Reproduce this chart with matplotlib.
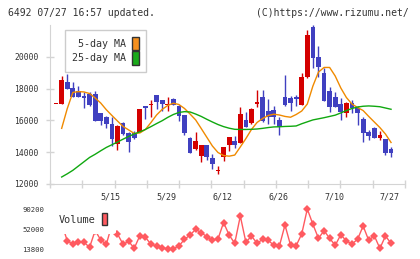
import numpy as np
import matplotlib
matplotlib.use("Agg")
import matplotlib.pyplot as plt
from matplotlib.patches import Patch

# daily candles (61 trading days)
opens = [17000, 17030, 18400, 18020, 17850, 17540, 17660, 17660, 16450, 16230,
         15770, 14520, 15860, 15230, 15230, 15290, 16900, 16980, 17600, 17280,
         16990, 17350, 16900, 16340, 14870, 14200, 13780, 14450, 13620, 12830,
         13720, 14450, 14720, 14600, 16030, 15860, 17030, 17450, 16590, 16650,
         16030, 17450, 17390, 17490, 16970, 18750, 21900, 19970, 18960, 17850,
         17450, 17030, 16480, 17110, 16800, 16070, 15290, 15520, 14910, 14830,
         14200]
highs = [17000, 18810, 18920, 18430, 18160, 17810, 17810, 17870, 16450, 16300,
         16200, 15720, 15920, 15300, 15350, 16700, 16900, 17280, 17600, 17280,
         17450, 17430, 16950, 16340, 14980, 15300, 14450, 14450, 13890, 13150,
         14330, 14980, 15040, 16820, 16510, 16760, 17910, 17910, 17330, 16900,
         16230, 18860, 17540, 17600, 19000, 21690, 22000, 20680, 19280, 18120,
         17800, 17430, 17150, 17300, 16900, 16200, 15400, 15600, 15350, 14830,
         14310]
lows = [17000, 17030, 17950, 17490, 17490, 16800, 16880, 15980, 15710, 15500,
        14400, 14140, 15100, 14030, 14850, 15290, 16070, 16200, 16700, 16600,
        16620, 16980, 15980, 15080, 13930, 14140, 13400, 13500, 12950, 12610,
        13450, 14050, 14240, 14600, 15570, 15770, 16860, 15920, 15770, 15770,
        15080, 16900, 16610, 16900, 16970, 18690, 19320, 18750, 17240, 16550,
        16860, 16050, 16230, 16480, 15730, 14660, 14770, 14920, 14780, 13820,
        13680]
closes = [17000, 18540, 17980, 17490, 17490, 17390, 16970, 15980, 15980, 15800,
          14800, 15650, 15150, 14660, 14900, 16700, 16760, 17030, 17130, 17030,
          17030, 16980, 16300, 15200, 13930, 14700, 14450, 13700, 13280, 12880,
          14330, 14980, 14450, 16400, 15570, 16700, 17170, 15980, 16230, 16230,
          15570, 16970, 17110, 17330, 18750, 21370, 19910, 19340, 17240, 16860,
          16860, 16550, 17110, 16800, 16450, 15230, 15020, 14920, 15080, 13970,
          13920]
ma5 = [np.nan, 15500, 16740, 17760, 17810, 17790, 17690, 17410, 17090, 16670,
       16310, 15960, 15620, 15400, 15180, 15210, 15430, 15870, 16340, 16690,
       16940, 17080, 17000, 16750, 16400, 16030, 15490, 14940, 14390, 13980,
       13790, 13750, 13820, 14330, 14860, 15430, 15870, 16120, 16310, 16390,
       16340, 16250, 16200, 16370, 16590, 17030, 18160, 19040, 19330, 19330,
       18790, 18040, 17440, 17030, 16810, 16620, 16250, 15900, 15550, 15140,
       14610]
ma25 = [np.nan, 12440, 12640, 12860, 13130, 13400, 13670, 13870, 14090, 14300,
        14470, 14640, 14820, 14990, 15150, 15280, 15430, 15610, 15800, 15980,
        16190, 16370, 16500, 16550, 16530, 16400, 16250, 16070, 15900, 15740,
        15610, 15510, 15440, 15430, 15430, 15440, 15460, 15500, 15550, 15590,
        15600, 15620, 15630, 15650, 15790, 15910, 16030, 16100, 16170, 16250,
        16330, 16470, 16620, 16750, 16840, 16890, 16910, 16890, 16860, 16780,
        16700]
volume = [60000, 62000, 29700, 22800, 26600, 26600, 17000, 49000, 31000, 22800,
          60500, 42500, 22800, 28500, 15100, 39200, 36100, 22800, 19500, 16300,
          13800, 14400, 19500, 32300, 40500, 51400, 45000, 37300, 31000, 32900,
          64300, 40500, 24700, 76800, 26600, 38600, 24700, 32300, 30400, 20900,
          19500, 59600, 20900, 20100, 42500, 90200, 61000, 34200, 48800, 34200,
          20900, 41100, 29100, 23400, 32300, 57700, 30400, 39200, 15000, 38600,
          24700]
date_labels = ["5/15", "5/29", "6/12", "6/26", "7/10", "7/27"]
date_index = [10, 20, 30, 40, 50, 60]
price_ticks = [12000, 14000, 16000, 18000, 20000]

UP = "#d40000"
DOWN = "#4040c0"
GRAY = "#d4d4d4"
MONO = "DejaVu Sans Mono"

o = np.array(opens); c = np.array(closes)
h = np.array(highs); l = np.array(lows)
x = np.arange(len(o))
cols = [UP if cc >= oo else DOWN for oo, cc in zip(o, c)]

fig = plt.figure(figsize=(4.2, 2.59), dpi=100)
ax = fig.add_axes([50/420, 75/259, 355/420, 159/259])
vax = fig.add_axes([50/420, 4/259, 355/420, 52/259])
xlim = (-1.09, 62.5)

# candles
ax.vlines(x, l, h, colors=cols, lw=1, zorder=2)
body = np.maximum(np.abs(c - o), 70)
ax.bar(x, body, bottom=np.minimum(o, c), width=0.85, color=cols, lw=0, zorder=3)
ax.plot(x, ma5, color="#f08a00", lw=1, zorder=4)
ax.plot(x, ma25, color="#10a810", lw=1, zorder=4)

ax.set_xlim(*xlim)
ax.set_ylim(12000, 22000)
for s in ["top", "right"]:
    ax.spines[s].set_visible(False)
for s in ["left", "bottom"]:
    ax.spines[s].set_color(GRAY)
ax.set_yticks(price_ticks)
ax.set_yticklabels([str(t) for t in price_ticks], family=MONO, fontsize=5.8, color="#333333")
ax.set_xticks(np.linspace(xlim[0], xlim[1], 12))
ax.set_xticklabels([])
ax.tick_params(direction="inout", length=6, width=1, color=GRAY, pad=5)
for i, lab in zip(date_index, date_labels):
    ax.text(i - 0.2, -0.082, lab, transform=ax.get_xaxis_transform(),
            ha="center", va="center", family=MONO, fontsize=6, color="#333333")

leg = ax.legend([Patch(facecolor="#f5901e", edgecolor="#333333", lw=1),
                 Patch(facecolor="#1aaa1a", edgecolor="#333333", lw=1)],
                ["5-day MA", "25-day MA"], loc="upper left",
                bbox_to_anchor=(65/420, 1 - 30/259), bbox_transform=fig.transFigure,
                markerfirst=False, handlelength=0.7, handleheight=1.65,
                handletextpad=0.6, labelspacing=0.12, borderpad=0.7,
                borderaxespad=0, fancybox=False, framealpha=1,
                edgecolor="#cccccc", prop={"family": MONO, "size": 7.2})
leg.get_frame().set_linewidth(1)
for t in leg.get_texts():
    t.set_color("#333333")

# volume
vax.plot(x, volume, color="#ff5a60", lw=1, marker="D", ms=4, mew=0, zorder=2)
vax.set_xlim(*xlim)
vax.set_ylim(13800 - 6 * 1910, 90200 + 6 * 1910)
vt = [min(volume), (min(volume) + max(volume)) / 2, max(volume)]
vax.set_yticks(vt)
vax.set_yticklabels([f"{v:.0f}" for v in vt], family=MONO, fontsize=5.2, color="#333333")
vax.set_xticks([])
vax.tick_params(length=0, pad=4)
for s in vax.spines.values():
    s.set_visible(False)
vleg = vax.legend([Patch(facecolor="#ff5a60", edgecolor="#333333", lw=1)], ["Volume"],
                  loc="upper left", bbox_to_anchor=(50/420, 1 - 205/259),
                  bbox_transform=fig.transFigure, markerfirst=False,
                  handlelength=0.5, handleheight=1.45, handletextpad=0.7,
                  borderpad=0.8, borderaxespad=0, frameon=True, framealpha=1,
                  edgecolor="none", prop={"family": MONO, "size": 7.4})
vleg.get_texts()[0].set_color("#333333")

fig.text(8/420, 1 - 13/259, "6492 07/27 16:57 updated.", family=MONO, fontsize=7,
         va="center", color="#333333")
fig.text(409/420, 1 - 13/259, "(C)https://www.rizumu.net/", family=MONO, fontsize=7,
         va="center", ha="right", color="#333333")

fig.savefig("out.png", dpi=100)
